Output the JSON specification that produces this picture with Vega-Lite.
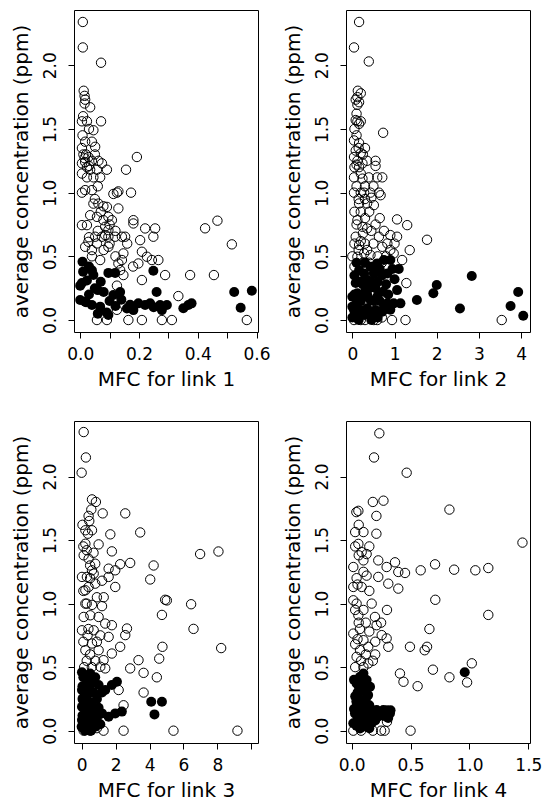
{
  "$schema": "https://vega.github.io/schema/vega-lite/v6.json",
  "padding": {"left": 10, "top": 9, "right": 0, "bottom": 0},
  "autosize": {"type": "pad"},
  "background": "white",
  "columns": 2,
  "spacing": {"row": 89, "column": 88},
  "bounds": "flush",
  "datasets": {
    "p1": [
      {"x":0.009,"y":2.34,"t":"open"},{"x":0.009,"y":2.14,"t":"open"},{"x":0.071,"y":2.02,"t":"open"},
      {"x":0.012,"y":1.80,"t":"open"},{"x":0.015,"y":1.76,"t":"open"},{"x":0.017,"y":1.73,"t":"open"},{"x":0.015,"y":1.70,"t":"open"},{"x":0.034,"y":1.67,"t":"open"},
      {"x":0.006,"y":1.56,"t":"open"},{"x":0.023,"y":1.56,"t":"open"},{"x":0.071,"y":1.56,"t":"open"},{"x":0.045,"y":1.49,"t":"open"},
      {"x":0.008,"y":1.45,"t":"open"},{"x":0.017,"y":1.40,"t":"open"},{"x":0.04,"y":1.40,"t":"open"},{"x":0.051,"y":1.36,"t":"open"},{"x":0.006,"y":1.35,"t":"open"},
      {"x":0.193,"y":1.28,"t":"open"},
      {"x":0.011,"y":1.30,"t":"open"},{"x":0.028,"y":1.28,"t":"open"},{"x":0.017,"y":1.24,"t":"open"},{"x":0.04,"y":1.25,"t":"open"},{"x":0.062,"y":1.25,"t":"open"},{"x":0.074,"y":1.23,"t":"open"},{"x":0.091,"y":1.18,"t":"open"},{"x":0.006,"y":1.23,"t":"open"},{"x":0.023,"y":1.20,"t":"open"},{"x":0.034,"y":1.18,"t":"open"},{"x":0.057,"y":1.18,"t":"open"},{"x":0.023,"y":1.12,"t":"open"},{"x":0.045,"y":1.12,"t":"open"},{"x":0.068,"y":1.12,"t":"open"},{"x":0.006,"y":1.15,"t":"open"},{"x":0.03,"y":1.21,"t":"open"},{"x":0.05,"y":1.30,"t":"open"},{"x":0.015,"y":1.27,"t":"open"},
      {"x":0.156,"y":1.18,"t":"open"},
      {"x":0.13,"y":1.01,"t":"open"},{"x":0.113,"y":0.99,"t":"open"},{"x":0.125,"y":1.0,"t":"open"},{"x":0.173,"y":1.0,"t":"open"},{"x":0.017,"y":1.02,"t":"open"},{"x":0.04,"y":1.02,"t":"open"},{"x":0.006,"y":1.0,"t":"open"},
      {"x":0.045,"y":0.914,"t":"open"},{"x":0.079,"y":0.893,"t":"open"},{"x":0.091,"y":0.888,"t":"open"},{"x":0.13,"y":0.876,"t":"open"},{"x":0.062,"y":0.914,"t":"open"},
      {"x":0.034,"y":0.823,"t":"open"},{"x":0.057,"y":0.81,"t":"open"},{"x":0.096,"y":0.81,"t":"open"},{"x":0.079,"y":0.784,"t":"open"},{"x":0.006,"y":0.745,"t":"open"},{"x":0.023,"y":0.745,"t":"open"},{"x":0.085,"y":0.732,"t":"open"},{"x":0.096,"y":0.706,"t":"open"},{"x":0.108,"y":0.784,"t":"open"},
      {"x":0.181,"y":0.784,"t":"open"},{"x":0.181,"y":0.758,"t":"open"},
      {"x":0.221,"y":0.719,"t":"open"},{"x":0.255,"y":0.719,"t":"open"},{"x":0.249,"y":0.654,"t":"open"},{"x":0.204,"y":0.627,"t":"open"},
      {"x":0.425,"y":0.72,"t":"open"},{"x":0.467,"y":0.78,"t":"open"},{"x":0.516,"y":0.594,"t":"open"},
      {"x":0.051,"y":0.654,"t":"open"},{"x":0.074,"y":0.654,"t":"open"},{"x":0.096,"y":0.654,"t":"open"},{"x":0.119,"y":0.654,"t":"open"},{"x":0.142,"y":0.654,"t":"open"},{"x":0.153,"y":0.654,"t":"open"},{"x":0.085,"y":0.667,"t":"open"},
      {"x":0.028,"y":0.614,"t":"open"},{"x":0.057,"y":0.601,"t":"open"},{"x":0.017,"y":0.575,"t":"open"},{"x":0.04,"y":0.549,"t":"open"},{"x":0.096,"y":0.575,"t":"open"},{"x":0.147,"y":0.523,"t":"open"},{"x":0.21,"y":0.536,"t":"open"},{"x":0.142,"y":0.471,"t":"open"},{"x":0.227,"y":0.497,"t":"open"},{"x":0.068,"y":0.471,"t":"open"},{"x":0.244,"y":0.471,"t":"open"},{"x":0.266,"y":0.471,"t":"open"},{"x":0.13,"y":0.444,"t":"open"},{"x":0.198,"y":0.444,"t":"open"},{"x":0.136,"y":0.392,"t":"open"},{"x":0.147,"y":0.353,"t":"open"},
      {"x":0.289,"y":0.353,"t":"open"},{"x":0.374,"y":0.353,"t":"open"},{"x":0.455,"y":0.353,"t":"open"},{"x":0.21,"y":0.314,"t":"open"},{"x":0.125,"y":0.27,"t":"open"},{"x":0.334,"y":0.188,"t":"open"},{"x":0.125,"y":0.08,"t":"open"},
      {"x":0.057,"y":0,"t":"open"},{"x":0.091,"y":0,"t":"open"},{"x":0.164,"y":0,"t":"open"},{"x":0.21,"y":0,"t":"open"},{"x":0.278,"y":0,"t":"open"},{"x":0.312,"y":0,"t":"open"},{"x":0.567,"y":0,"t":"open"},
      {"x":0.01,"y":1.6,"t":"open"},{"x":0.03,"y":1.5,"t":"open"},{"x":0.02,"y":1.3,"t":"open"},{"x":0.06,"y":1.05,"t":"open"},{"x":0.05,"y":0.95,"t":"open"},{"x":0.07,"y":0.85,"t":"open"},{"x":0.1,"y":0.75,"t":"open"},{"x":0.12,"y":0.7,"t":"open"},{"x":0.06,"y":0.7,"t":"open"},{"x":0.03,"y":0.65,"t":"open"},{"x":0.1,"y":0.6,"t":"open"},{"x":0.12,"y":0.5,"t":"open"},{"x":0.08,"y":0.55,"t":"open"},{"x":0.16,"y":0.6,"t":"open"},{"x":0.04,"y":0.5,"t":"open"},{"x":0.18,"y":0.42,"t":"open"},
      {"x":0.008,"y":0.457,"t":"filled"},{"x":0.04,"y":0.39,"t":"filled"},{"x":0.045,"y":0.353,"t":"filled"},{"x":0.006,"y":0.29,"t":"filled"},{"x":0.023,"y":0.31,"t":"filled"},{"x":0.096,"y":0.37,"t":"filled"},{"x":0.119,"y":0.37,"t":"filled"},{"x":0.249,"y":0.387,"t":"filled"},{"x":0.06,"y":0.235,"t":"filled"},{"x":0.08,"y":0.22,"t":"filled"},{"x":0.113,"y":0.196,"t":"filled"},{"x":0.136,"y":0.22,"t":"filled"},{"x":0.26,"y":0.22,"t":"filled"},{"x":0,"y":0.157,"t":"filled"},{"x":0.017,"y":0.144,"t":"filled"},{"x":0.04,"y":0.118,"t":"filled"},{"x":0.068,"y":0.105,"t":"filled"},{"x":0.096,"y":0.04,"t":"filled"},{"x":0.159,"y":0.09,"t":"filled"},{"x":0.181,"y":0.078,"t":"filled"},{"x":0.198,"y":0.131,"t":"filled"},{"x":0.221,"y":0.118,"t":"filled"},{"x":0.238,"y":0.131,"t":"filled"},{"x":0.272,"y":0.118,"t":"filled"},{"x":0.295,"y":0.118,"t":"filled"},{"x":0.278,"y":0.078,"t":"filled"},{"x":0.351,"y":0.092,"t":"filled"},{"x":0.368,"y":0.118,"t":"filled"},{"x":0.379,"y":0.131,"t":"filled"},{"x":0.524,"y":0.22,"t":"filled"},{"x":0.584,"y":0.23,"t":"filled"},{"x":0.546,"y":0.097,"t":"filled"},
      {"x":0.0,"y":0.27,"t":"filled"},{"x":0.02,"y":0.14,"t":"filled"},{"x":0.05,"y":0.25,"t":"filled"},{"x":0.09,"y":0.06,"t":"filled"},{"x":0.12,"y":0.11,"t":"filled"},{"x":0.17,"y":0.12,"t":"filled"},{"x":0.25,"y":0.10,"t":"filled"},
      {"x":0.03,"y":0.42,"t":"filled"},{"x":0.01,"y":0.38,"t":"filled"},{"x":0.07,"y":0.3,"t":"filled"},{"x":0.03,"y":0.2,"t":"filled"},{"x":0.1,"y":0.15,"t":"filled"},{"x":0.14,"y":0.16,"t":"filled"},{"x":0.06,"y":0.05,"t":"filled"}
    ],
    "p2": [
      {"x":0.16,"y":2.34,"t":"open"},{"x":0.04,"y":2.14,"t":"open"},{"x":0.39,"y":2.03,"t":"open"},
      {"x":0.13,"y":1.80,"t":"open"},{"x":0.12,"y":1.75,"t":"open"},{"x":0.16,"y":1.71,"t":"open"},{"x":0.12,"y":1.69,"t":"open"},{"x":0.2,"y":1.78,"t":"open"},
      {"x":0.08,"y":1.57,"t":"open"},{"x":0.12,"y":1.56,"t":"open"},{"x":0.16,"y":1.54,"t":"open"},{"x":0.2,"y":1.56,"t":"open"},
      {"x":0.73,"y":1.47,"t":"open"},
      {"x":0.04,"y":1.41,"t":"open"},{"x":0.16,"y":1.39,"t":"open"},{"x":0.08,"y":1.33,"t":"open"},{"x":0.2,"y":1.31,"t":"open"},{"x":0.12,"y":1.25,"t":"open"},{"x":0.04,"y":1.28,"t":"open"},{"x":0.24,"y":1.23,"t":"open"},{"x":0.16,"y":1.20,"t":"open"},{"x":0.3,"y":1.35,"t":"open"},{"x":0.25,"y":1.30,"t":"open"},{"x":0.35,"y":1.25,"t":"open"},{"x":0.1,"y":1.22,"t":"open"},
      {"x":0.55,"y":1.25,"t":"open"},{"x":0.55,"y":1.21,"t":"open"},
      {"x":0.71,"y":1.12,"t":"open"},{"x":0.59,"y":1.12,"t":"open"},{"x":0.04,"y":1.12,"t":"open"},{"x":0.24,"y":1.11,"t":"open"},{"x":0.39,"y":1.12,"t":"open"},
      {"x":0.04,"y":1.0,"t":"open"},{"x":0.28,"y":1.0,"t":"open"},{"x":0.43,"y":1.0,"t":"open"},{"x":0.63,"y":1.0,"t":"open"},{"x":0.67,"y":0.98,"t":"open"},{"x":0.35,"y":0.915,"t":"open"},{"x":0.51,"y":0.902,"t":"open"},{"x":0.16,"y":0.915,"t":"open"},{"x":0.3,"y":0.95,"t":"open"},{"x":0.45,"y":0.96,"t":"open"},
      {"x":1.06,"y":0.79,"t":"open"},{"x":1.30,"y":0.745,"t":"open"},{"x":1.77,"y":0.63,"t":"open"},
      {"x":0.12,"y":0.784,"t":"open"},{"x":0.24,"y":0.732,"t":"open"},{"x":0.35,"y":0.719,"t":"open"},{"x":0.08,"y":0.654,"t":"open"},{"x":0.63,"y":0.654,"t":"open"},{"x":0.9,"y":0.667,"t":"open"},{"x":1.06,"y":0.654,"t":"open"},{"x":0.83,"y":0.601,"t":"open"},{"x":1.36,"y":0.549,"t":"open"},{"x":0.98,"y":0.523,"t":"open"},{"x":1.18,"y":0.471,"t":"open"},{"x":0.16,"y":0.589,"t":"open"},{"x":0.28,"y":0.523,"t":"open"},{"x":0.43,"y":0.51,"t":"open"},{"x":0.12,"y":0.497,"t":"open"},{"x":0.71,"y":0.575,"t":"open"},{"x":0.3,"y":0.8,"t":"open"},{"x":0.45,"y":0.7,"t":"open"},{"x":0.2,"y":0.62,"t":"open"},{"x":0.5,"y":0.6,"t":"open"},{"x":0.6,"y":0.5,"t":"open"},{"x":0.05,"y":0.42,"t":"open"},{"x":0.4,"y":0.45,"t":"open"},
      {"x":1.28,"y":0.29,"t":"open"},
      {"x":0.04,"y":0,"t":"open"},{"x":0.51,"y":0,"t":"open"},{"x":0.59,"y":0,"t":"open"},{"x":0.94,"y":0,"t":"open"},{"x":1.26,"y":0,"t":"open"},{"x":3.54,"y":0,"t":"open"},{"x":0.3,"y":0,"t":"open"},{"x":0.7,"y":0.02,"t":"open"},{"x":0.2,"y":0,"t":"open"},
      {"x":0.05,"y":1.5,"t":"open"},{"x":0.1,"y":1.45,"t":"open"},{"x":0.15,"y":1.35,"t":"open"},{"x":0.05,"y":1.2,"t":"open"},{"x":0.2,"y":1.15,"t":"open"},{"x":0.1,"y":1.05,"t":"open"},{"x":0.15,"y":0.95,"t":"open"},{"x":0.05,"y":0.85,"t":"open"},{"x":0.2,"y":0.85,"t":"open"},{"x":0.1,"y":0.75,"t":"open"},{"x":0.25,"y":0.68,"t":"open"},{"x":0.05,"y":0.6,"t":"open"},{"x":0.15,"y":0.55,"t":"open"},{"x":0.3,"y":0.6,"t":"open"},{"x":0.35,"y":0.55,"t":"open"},{"x":0.0,"y":0.5,"t":"open"},{"x":0.25,"y":0.45,"t":"open"},{"x":0.1,"y":1.62,"t":"open"},{"x":0.08,"y":1.73,"t":"open"},{"x":0.2,"y":1.0,"t":"open"},{"x":0.3,"y":1.05,"t":"open"},{"x":0.5,"y":1.05,"t":"open"},{"x":0.4,"y":0.85,"t":"open"},{"x":0.55,"y":0.75,"t":"open"},{"x":0.65,"y":0.8,"t":"open"},{"x":0.75,"y":0.7,"t":"open"},{"x":0.8,"y":0.5,"t":"open"},{"x":0.7,"y":0.45,"t":"open"},{"x":0.9,"y":0.55,"t":"open"},{"x":1.0,"y":0.6,"t":"open"},
      {"x":0.08,"y":0.29,"t":"filled"},{"x":0.16,"y":0.39,"t":"filled"},{"x":0.28,"y":0.366,"t":"filled"},{"x":0.43,"y":0.418,"t":"filled"},{"x":0.59,"y":0.444,"t":"filled"},{"x":0.75,"y":0.471,"t":"filled"},{"x":0.90,"y":0.471,"t":"filled"},{"x":0.35,"y":0.314,"t":"filled"},{"x":0.51,"y":0.366,"t":"filled"},{"x":0.83,"y":0.366,"t":"filled"},{"x":0.0,"y":0.183,"t":"filled"},{"x":0.12,"y":0.21,"t":"filled"},{"x":0.28,"y":0.183,"t":"filled"},{"x":0.43,"y":0.157,"t":"filled"},{"x":0.59,"y":0.183,"t":"filled"},{"x":0.73,"y":0.222,"t":"filled"},{"x":1.06,"y":0.235,"t":"filled"},{"x":0.83,"y":0.131,"t":"filled"},{"x":0.98,"y":0.131,"t":"filled"},{"x":1.14,"y":0.131,"t":"filled"},{"x":0.04,"y":0.078,"t":"filled"},{"x":0.2,"y":0.078,"t":"filled"},{"x":0.35,"y":0.092,"t":"filled"},{"x":0.55,"y":0.078,"t":"filled"},{"x":0.71,"y":0.065,"t":"filled"},{"x":0.12,"y":0.026,"t":"filled"},{"x":0.28,"y":0.039,"t":"filled"},{"x":0.0,"y":0.105,"t":"filled"},{"x":0.6,"y":0.3,"t":"filled"},{"x":0.7,"y":0.35,"t":"filled"},{"x":0.95,"y":0.4,"t":"filled"},{"x":0.2,"y":0.3,"t":"filled"},{"x":0.4,"y":0.25,"t":"filled"},{"x":0.1,"y":0.13,"t":"filled"},{"x":0.5,"y":0.15,"t":"filled"},{"x":0.85,"y":0.2,"t":"filled"},
      {"x":0.05,"y":0.35,"t":"filled"},{"x":0.15,"y":0.3,"t":"filled"},{"x":0.25,"y":0.28,"t":"filled"},{"x":0.3,"y":0.22,"t":"filled"},{"x":0.45,"y":0.3,"t":"filled"},{"x":0.55,"y":0.25,"t":"filled"},{"x":0.65,"y":0.15,"t":"filled"},{"x":0.75,"y":0.1,"t":"filled"},{"x":0.9,"y":0.08,"t":"filled"},{"x":0.4,"y":0.05,"t":"filled"},{"x":0.6,"y":0.02,"t":"filled"},{"x":0.2,"y":0.15,"t":"filled"},{"x":0.05,"y":0.2,"t":"filled"},{"x":0.1,"y":0.45,"t":"filled"},{"x":0.3,"y":0.45,"t":"filled"},{"x":0.65,"y":0.4,"t":"filled"},{"x":0.8,"y":0.28,"t":"filled"},{"x":1.0,"y":0.32,"t":"filled"},{"x":0.0,"y":0.02,"t":"filled"},{"x":0.15,"y":0.0,"t":"filled"},{"x":0.45,"y":0.0,"t":"filled"},{"x":0.35,"y":0.2,"t":"filled"},{"x":0.5,"y":0.42,"t":"filled"},{"x":1.1,"y":0.4,"t":"filled"},
      {"x":1.53,"y":0.157,"t":"filled"},{"x":1.92,"y":0.21,"t":"filled"},{"x":2.0,"y":0.275,"t":"filled"},{"x":2.83,"y":0.345,"t":"filled"},{"x":2.55,"y":0.09,"t":"filled"},{"x":3.93,"y":0.22,"t":"filled"},{"x":3.75,"y":0.11,"t":"filled"},{"x":4.05,"y":0.034,"t":"filled"}
    ],
    "p3": [
      {"x":0.12,"y":2.35,"t":"open"},{"x":0.25,"y":2.15,"t":"open"},{"x":0.0,"y":2.03,"t":"open"},
      {"x":0.61,"y":1.82,"t":"open"},{"x":0.84,"y":1.80,"t":"open"},{"x":0.57,"y":1.74,"t":"open"},{"x":0.41,"y":1.69,"t":"open"},{"x":1.24,"y":1.71,"t":"open"},{"x":2.57,"y":1.71,"t":"open"},{"x":3.45,"y":1.56,"t":"open"},
      {"x":0.22,"y":1.577,"t":"open"},{"x":0.61,"y":1.577,"t":"open"},{"x":0.37,"y":1.55,"t":"open"},{"x":1.69,"y":1.545,"t":"open"},
      {"x":1.0,"y":1.466,"t":"open"},{"x":0.22,"y":1.471,"t":"open"},{"x":1.78,"y":1.411,"t":"open"},
      {"x":6.98,"y":1.39,"t":"open"},{"x":8.06,"y":1.41,"t":"open"},
      {"x":2.86,"y":1.32,"t":"open"},{"x":2.27,"y":1.31,"t":"open"},{"x":4.24,"y":1.30,"t":"open"},{"x":4.04,"y":1.19,"t":"open"},
      {"x":0.12,"y":1.38,"t":"open"},{"x":0.41,"y":1.353,"t":"open"},{"x":0.8,"y":1.314,"t":"open"},{"x":0.61,"y":1.262,"t":"open"},{"x":1.59,"y":1.275,"t":"open"},{"x":1.98,"y":1.262,"t":"open"},{"x":0.02,"y":1.21,"t":"open"},{"x":0.31,"y":1.21,"t":"open"},{"x":0.71,"y":1.236,"t":"open"},{"x":1.59,"y":1.21,"t":"open"},{"x":1.98,"y":1.131,"t":"open"},{"x":0.41,"y":1.131,"t":"open"},{"x":0.22,"y":1.105,"t":"open"},{"x":0.8,"y":1.157,"t":"open"},{"x":1.2,"y":1.18,"t":"open"},{"x":0.5,"y":1.3,"t":"open"},
      {"x":4.92,"y":1.03,"t":"open"},{"x":5.02,"y":1.025,"t":"open"},{"x":6.45,"y":0.995,"t":"open"},{"x":4.73,"y":0.911,"t":"open"},{"x":6.59,"y":0.801,"t":"open"},{"x":8.22,"y":0.65,"t":"open"},
      {"x":0.22,"y":1.0,"t":"open"},{"x":0.61,"y":0.99,"t":"open"},{"x":1.2,"y":0.98,"t":"open"},{"x":0.12,"y":0.895,"t":"open"},{"x":0.51,"y":0.908,"t":"open"},{"x":1.0,"y":0.895,"t":"open"},{"x":1.39,"y":0.843,"t":"open"},{"x":1.78,"y":0.83,"t":"open"},{"x":2.67,"y":0.804,"t":"open"},{"x":2.57,"y":0.752,"t":"open"},{"x":0.02,"y":0.79,"t":"open"},{"x":0.71,"y":0.79,"t":"open"},{"x":1.59,"y":0.738,"t":"open"},{"x":2.27,"y":0.66,"t":"open"},{"x":1.78,"y":0.607,"t":"open"},{"x":0.61,"y":0.686,"t":"open"},{"x":0.22,"y":0.633,"t":"open"},{"x":1.0,"y":0.633,"t":"open"},
      {"x":4.76,"y":0.66,"t":"open"},{"x":4.57,"y":0.567,"t":"open"},{"x":3.35,"y":0.555,"t":"open"},{"x":2.86,"y":0.49,"t":"open"},{"x":3.65,"y":0.455,"t":"open"},{"x":4.43,"y":0.42,"t":"open"},
      {"x":1.29,"y":0.555,"t":"open"},{"x":1.1,"y":0.503,"t":"open"},{"x":1.39,"y":0.49,"t":"open"},{"x":2.18,"y":0.32,"t":"open"},{"x":3.65,"y":0.30,"t":"open"},{"x":2.47,"y":0.20,"t":"open"},
      {"x":0.12,"y":0,"t":"open"},{"x":1.29,"y":0,"t":"open"},{"x":2.47,"y":0,"t":"open"},{"x":5.41,"y":0,"t":"open"},{"x":9.18,"y":0,"t":"open"},{"x":0.5,"y":0,"t":"open"},{"x":0.9,"y":0.02,"t":"open"},{"x":0.3,"y":0.05,"t":"open"},
      {"x":0.1,"y":1.45,"t":"open"},{"x":0.3,"y":1.42,"t":"open"},{"x":0.5,"y":1.2,"t":"open"},{"x":0.1,"y":1.1,"t":"open"},{"x":0.3,"y":1.0,"t":"open"},{"x":0.4,"y":0.8,"t":"open"},{"x":0.1,"y":0.7,"t":"open"},{"x":0.35,"y":0.75,"t":"open"},{"x":0.5,"y":0.6,"t":"open"},{"x":0.8,"y":0.55,"t":"open"},{"x":0.3,"y":0.55,"t":"open"},{"x":0.15,"y":0.5,"t":"open"},{"x":0.6,"y":0.5,"t":"open"},{"x":0.9,"y":0.7,"t":"open"},{"x":1.1,"y":0.75,"t":"open"},{"x":1.3,"y":1.05,"t":"open"},{"x":0.9,"y":1.05,"t":"open"},{"x":0.7,"y":1.4,"t":"open"},{"x":0.05,"y":1.62,"t":"open"},{"x":0.45,"y":1.65,"t":"open"},
      {"x":0.02,"y":0.46,"t":"filled"},{"x":0.22,"y":0.424,"t":"filled"},{"x":0.61,"y":0.372,"t":"filled"},{"x":1.0,"y":0.359,"t":"filled"},{"x":0.02,"y":0.32,"t":"filled"},{"x":0.31,"y":0.267,"t":"filled"},{"x":0.02,"y":0.188,"t":"filled"},{"x":0.41,"y":0.16,"t":"filled"},{"x":0.8,"y":0.12,"t":"filled"},{"x":1.2,"y":0.136,"t":"filled"},{"x":0.02,"y":0.084,"t":"filled"},{"x":0.41,"y":0.058,"t":"filled"},{"x":0.8,"y":0.031,"t":"filled"},{"x":0.12,"y":0.018,"t":"filled"},{"x":1.39,"y":0.32,"t":"filled"},{"x":1.78,"y":0.36,"t":"filled"},{"x":2.08,"y":0.385,"t":"filled"},{"x":1.98,"y":0.136,"t":"filled"},{"x":2.37,"y":0.15,"t":"filled"},{"x":1.59,"y":0.11,"t":"filled"},{"x":4.1,"y":0.228,"t":"filled"},{"x":4.73,"y":0.228,"t":"filled"},{"x":4.29,"y":0.128,"t":"filled"},
      {"x":0.3,"y":0.4,"t":"filled"},{"x":0.5,"y":0.3,"t":"filled"},{"x":0.1,"y":0.24,"t":"filled"},{"x":0.6,"y":0.22,"t":"filled"},{"x":0.9,"y":0.25,"t":"filled"},{"x":0.25,"y":0.1,"t":"filled"},{"x":0.6,"y":0.08,"t":"filled"},{"x":1.0,"y":0.18,"t":"filled"},{"x":0.2,"y":0.0,"t":"filled"},{"x":0.05,"y":0.35,"t":"filled"},{"x":0.5,"y":0.45,"t":"filled"},
      {"x":0.1,"y":0.42,"t":"filled"},{"x":0.4,"y":0.35,"t":"filled"},{"x":0.7,"y":0.3,"t":"filled"},{"x":0.15,"y":0.3,"t":"filled"},{"x":0.35,"y":0.2,"t":"filled"},{"x":0.7,"y":0.15,"t":"filled"},{"x":0.05,"y":0.12,"t":"filled"},{"x":0.3,"y":0.05,"t":"filled"},{"x":0.55,"y":0.0,"t":"filled"},{"x":0.9,"y":0.1,"t":"filled"},{"x":1.1,"y":0.05,"t":"filled"},{"x":0.8,"y":0.42,"t":"filled"},{"x":0.15,"y":0.05,"t":"filled"},{"x":0.45,"y":0.12,"t":"filled"},{"x":0.0,"y":0.03,"t":"filled"},{"x":1.2,"y":0.3,"t":"filled"},{"x":0.05,"y":0.25,"t":"filled"},{"x":0.25,"y":0.35,"t":"filled"}
    ],
    "p4": [
      {"x":0.235,"y":2.34,"t":"open"},{"x":0.19,"y":2.15,"t":"open"},{"x":0.467,"y":2.03,"t":"open"},
      {"x":0.18,"y":1.80,"t":"open"},{"x":0.27,"y":1.81,"t":"open"},{"x":0.83,"y":1.74,"t":"open"},{"x":0.04,"y":1.72,"t":"open"},{"x":0.057,"y":1.73,"t":"open"},{"x":0.21,"y":1.69,"t":"open"},
      {"x":0.03,"y":1.563,"t":"open"},{"x":0.1,"y":1.563,"t":"open"},{"x":0.21,"y":1.55,"t":"open"},{"x":1.45,"y":1.48,"t":"open"},
      {"x":0.057,"y":1.47,"t":"open"},{"x":0.085,"y":1.405,"t":"open"},{"x":0.127,"y":1.39,"t":"open"},{"x":0.1,"y":1.34,"t":"open"},{"x":0.226,"y":1.34,"t":"open"},{"x":0.368,"y":1.325,"t":"open"},{"x":0.014,"y":1.288,"t":"open"},
      {"x":0.297,"y":1.288,"t":"open"},{"x":0.396,"y":1.249,"t":"open"},{"x":0.453,"y":1.241,"t":"open"},{"x":0.586,"y":1.262,"t":"open"},{"x":0.708,"y":1.309,"t":"open"},{"x":0.87,"y":1.267,"t":"open"},{"x":1.05,"y":1.262,"t":"open"},{"x":1.16,"y":1.28,"t":"open"},
      {"x":0.042,"y":1.2,"t":"open"},{"x":0.127,"y":1.22,"t":"open"},{"x":0.226,"y":1.21,"t":"open"},{"x":0.311,"y":1.157,"t":"open"},{"x":0.396,"y":1.118,"t":"open"},{"x":0.085,"y":1.131,"t":"open"},{"x":0.014,"y":1.131,"t":"open"},
      {"x":0.71,"y":1.03,"t":"open"},{"x":1.16,"y":0.911,"t":"open"},
      {"x":0.014,"y":1.026,"t":"open"},{"x":0.042,"y":1.0,"t":"open"},{"x":0.17,"y":1.0,"t":"open"},{"x":0.057,"y":0.908,"t":"open"},{"x":0.198,"y":0.895,"t":"open"},{"x":0.212,"y":0.83,"t":"open"},{"x":0.255,"y":0.752,"t":"open"},{"x":0.297,"y":0.726,"t":"open"},{"x":0.311,"y":0.66,"t":"open"},{"x":0.014,"y":0.764,"t":"open"},{"x":0.1,"y":0.712,"t":"open"},{"x":0.071,"y":0.634,"t":"open"},{"x":0.141,"y":0.66,"t":"open"},{"x":0.042,"y":0.581,"t":"open"},{"x":0.141,"y":0.529,"t":"open"},{"x":0.07,"y":0.8,"t":"open"},{"x":0.12,"y":0.85,"t":"open"},{"x":0.03,"y":0.68,"t":"open"},{"x":0.08,"y":0.55,"t":"open"},
      {"x":0.66,"y":0.80,"t":"open"},{"x":0.495,"y":0.66,"t":"open"},{"x":0.62,"y":0.633,"t":"open"},{"x":0.64,"y":0.66,"t":"open"},{"x":1.02,"y":0.53,"t":"open"},{"x":0.69,"y":0.48,"t":"open"},
      {"x":0.41,"y":0.45,"t":"open"},{"x":0.44,"y":0.385,"t":"open"},{"x":0.56,"y":0.35,"t":"open"},{"x":0.83,"y":0.42,"t":"open"},{"x":0.98,"y":0.38,"t":"open"},
      {"x":0.014,"y":0,"t":"open"},{"x":0.18,"y":0,"t":"open"},{"x":0.28,"y":0,"t":"open"},{"x":0.50,"y":0,"t":"open"},{"x":0.30,"y":0.07,"t":"open"},{"x":0.08,"y":0,"t":"open"},{"x":0.25,"y":0,"t":"open"},
      {"x":0.03,"y":1.45,"t":"open"},{"x":0.06,"y":1.38,"t":"open"},{"x":0.1,"y":1.25,"t":"open"},{"x":0.05,"y":1.15,"t":"open"},{"x":0.15,"y":1.1,"t":"open"},{"x":0.03,"y":0.95,"t":"open"},{"x":0.1,"y":0.95,"t":"open"},{"x":0.06,"y":0.85,"t":"open"},{"x":0.15,"y":0.78,"t":"open"},{"x":0.2,"y":0.7,"t":"open"},{"x":0.05,"y":0.72,"t":"open"},{"x":0.12,"y":0.6,"t":"open"},{"x":0.18,"y":0.55,"t":"open"},{"x":0.03,"y":0.5,"t":"open"},{"x":0.1,"y":0.5,"t":"open"},{"x":0.2,"y":0.6,"t":"open"},{"x":0.25,"y":0.85,"t":"open"},{"x":0.3,"y":0.95,"t":"open"},{"x":0.06,"y":1.62,"t":"open"},{"x":0.15,"y":1.45,"t":"open"},
      {"x":0.071,"y":0.424,"t":"filled"},{"x":0.127,"y":0.398,"t":"filled"},{"x":0.042,"y":0.372,"t":"filled"},{"x":0.099,"y":0.319,"t":"filled"},{"x":0.156,"y":0.346,"t":"filled"},{"x":0.071,"y":0.241,"t":"filled"},{"x":0.042,"y":0.188,"t":"filled"},{"x":0.028,"y":0.136,"t":"filled"},{"x":0.085,"y":0.11,"t":"filled"},{"x":0.141,"y":0.162,"t":"filled"},{"x":0.212,"y":0.162,"t":"filled"},{"x":0.269,"y":0.162,"t":"filled"},{"x":0.325,"y":0.136,"t":"filled"},{"x":0.297,"y":0.11,"t":"filled"},{"x":0.014,"y":0.058,"t":"filled"},{"x":0.071,"y":0.018,"t":"filled"},{"x":0.127,"y":0.058,"t":"filled"},{"x":0.057,"y":0.293,"t":"filled"},
      {"x":0.1,"y":0.45,"t":"filled"},{"x":0.05,"y":0.3,"t":"filled"},{"x":0.12,"y":0.25,"t":"filled"},{"x":0.18,"y":0.12,"t":"filled"},{"x":0.23,"y":0.14,"t":"filled"},{"x":0.3,"y":0.16,"t":"filled"},{"x":0.05,"y":0.1,"t":"filled"},{"x":0.1,"y":0.07,"t":"filled"},{"x":0.15,"y":0.2,"t":"filled"},{"x":0.2,"y":0.08,"t":"filled"},{"x":0.04,"y":0.23,"t":"filled"},{"x":0.11,"y":0.14,"t":"filled"},
      {"x":0.02,"y":0.4,"t":"filled"},{"x":0.06,"y":0.35,"t":"filled"},{"x":0.1,"y":0.38,"t":"filled"},{"x":0.14,"y":0.28,"t":"filled"},{"x":0.03,"y":0.27,"t":"filled"},{"x":0.09,"y":0.2,"t":"filled"},{"x":0.02,"y":0.17,"t":"filled"},{"x":0.06,"y":0.15,"t":"filled"},{"x":0.13,"y":0.1,"t":"filled"},{"x":0.17,"y":0.06,"t":"filled"},{"x":0.22,"y":0.11,"t":"filled"},{"x":0.26,"y":0.12,"t":"filled"},{"x":0.31,"y":0.1,"t":"filled"},{"x":0.33,"y":0.16,"t":"filled"},{"x":0.04,"y":0.04,"t":"filled"},{"x":0.09,"y":0.03,"t":"filled"},{"x":0.15,"y":0.02,"t":"filled"},{"x":0.08,"y":0.42,"t":"filled"},
      {"x":0.96,"y":0.46,"t":"filled"}
    ]
  },
  "concat": [
    {
      "width": 184, "height": 322,
      "data": {"name": "p1"},
      "encoding": {
        "x": {"field": "x", "type": "quantitative", "scale": {"domain": [-0.021, 0.605], "nice": false, "zero": false},
              "axis": {"title": "MFC for link 1", "values": [0, 0.1, 0.2, 0.3, 0.4, 0.5, 0.6], "labelExpr": "round(datum.value*10) % 2 == 0 ? format(datum.value, '.1f') : ''"}},
        "y": {"field": "y", "type": "quantitative", "scale": {"domain": [-0.094, 2.434], "nice": false, "zero": false},
              "axis": {"title": "average concentration (ppm)", "values": [0, 0.5, 1, 1.5, 2], "format": ".1f"}}
      },
      "layer": [
        {"transform": [{"filter": "datum.t == 'open'"}], "mark": {"type": "point", "shape": "circle", "filled": false, "size": 88, "stroke": "black", "strokeWidth": 1, "opacity": 1}},
        {"transform": [{"filter": "datum.t == 'filled'"}], "mark": {"type": "point", "shape": "circle", "filled": true, "size": 100, "color": "black", "opacity": 1}}
      ]
    },
    {
      "width": 184, "height": 322,
      "data": {"name": "p2"},
      "encoding": {
        "x": {"field": "x", "type": "quantitative", "scale": {"domain": [-0.15, 4.21], "nice": false, "zero": false},
              "axis": {"title": "MFC for link 2", "values": [0, 1, 2, 3, 4], "format": "d"}},
        "y": {"field": "y", "type": "quantitative", "scale": {"domain": [-0.094, 2.434], "nice": false, "zero": false},
              "axis": {"title": "average concentration (ppm)", "values": [0, 0.5, 1, 1.5, 2], "format": ".1f"}}
      },
      "layer": [
        {"transform": [{"filter": "datum.t == 'open'"}], "mark": {"type": "point", "shape": "circle", "filled": false, "size": 88, "stroke": "black", "strokeWidth": 1, "opacity": 1}},
        {"transform": [{"filter": "datum.t == 'filled'"}], "mark": {"type": "point", "shape": "circle", "filled": true, "size": 100, "color": "black", "opacity": 1}}
      ]
    },
    {
      "width": 184, "height": 322,
      "data": {"name": "p3"},
      "encoding": {
        "x": {"field": "x", "type": "quantitative", "scale": {"domain": [-0.45, 10.39], "nice": false, "zero": false},
              "axis": {"title": "MFC for link 3", "values": [0, 2, 4, 6, 8, 10], "labelExpr": "datum.value == 10 ? '' : format(datum.value, 'd')"}},
        "y": {"field": "y", "type": "quantitative", "scale": {"domain": [-0.097, 2.437], "nice": false, "zero": false},
              "axis": {"title": "average concentration (ppm)", "values": [0, 0.5, 1, 1.5, 2], "format": ".1f"}}
      },
      "layer": [
        {"transform": [{"filter": "datum.t == 'open'"}], "mark": {"type": "point", "shape": "circle", "filled": false, "size": 88, "stroke": "black", "strokeWidth": 1, "opacity": 1}},
        {"transform": [{"filter": "datum.t == 'filled'"}], "mark": {"type": "point", "shape": "circle", "filled": true, "size": 100, "color": "black", "opacity": 1}}
      ]
    },
    {
      "width": 184, "height": 322,
      "data": {"name": "p4"},
      "encoding": {
        "x": {"field": "x", "type": "quantitative", "scale": {"domain": [-0.048, 1.514], "nice": false, "zero": false},
              "axis": {"title": "MFC for link 4", "values": [0, 0.5, 1, 1.5], "format": ".1f"}},
        "y": {"field": "y", "type": "quantitative", "scale": {"domain": [-0.097, 2.437], "nice": false, "zero": false},
              "axis": {"title": "average concentration (ppm)", "values": [0, 0.5, 1, 1.5, 2], "format": ".1f"}}
      },
      "layer": [
        {"transform": [{"filter": "datum.t == 'open'"}], "mark": {"type": "point", "shape": "circle", "filled": false, "size": 88, "stroke": "black", "strokeWidth": 1, "opacity": 1}},
        {"transform": [{"filter": "datum.t == 'filled'"}], "mark": {"type": "point", "shape": "circle", "filled": true, "size": 100, "color": "black", "opacity": 1}}
      ]
    }
  ],
  "config": {
    "font": "DejaVu Sans",
    "view": {"stroke": "black", "strokeWidth": 1},
    "axis": {
      "domain": false, "grid": false, "ticks": true, "tickColor": "black", "tickSize": 6, "tickWidth": 1,
      "labelColor": "black", "titleColor": "black", "labelFont": "DejaVu Sans", "titleFont": "DejaVu Sans",
      "labelFontSize": 17, "titleFontSize": 20, "titleFontWeight": "normal", "labelOverlap": false
    },
    "axisY": {"labelAngle": 270, "labelAlign": "center", "labelBaseline": "bottom", "labelPadding": 9, "titlePadding": 10},
    "axisX": {"labelPadding": 8, "titlePadding": 7, "labelFlush": false}
  }
}
